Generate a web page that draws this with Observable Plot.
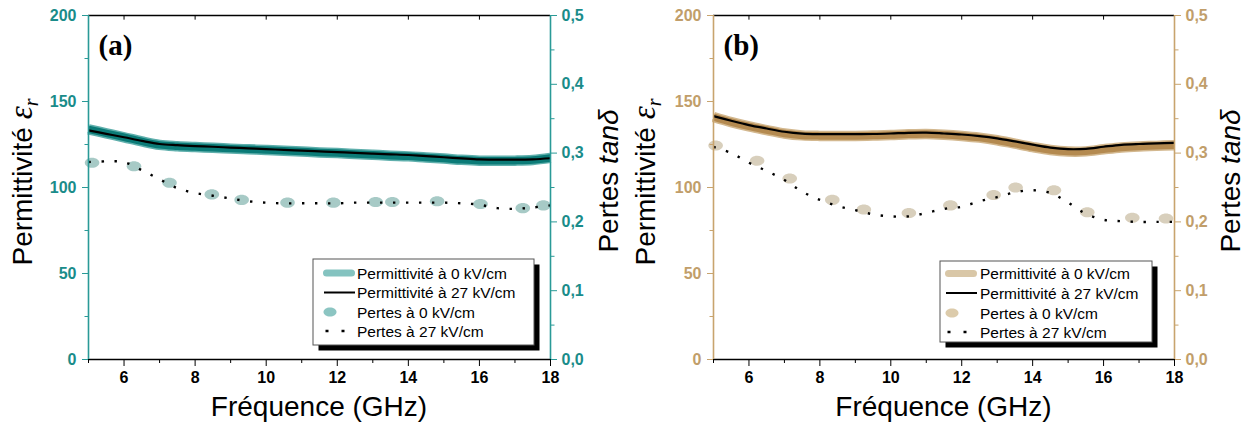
<!DOCTYPE html>
<html><head><meta charset="utf-8">
<script src="https://cdn.jsdelivr.net/npm/d3@7"></script>
<script src="https://cdn.jsdelivr.net/npm/@observablehq/plot@0.6"></script>
<style>
body{margin:0;background:#fff;}
#wrap{position:relative;width:1247px;height:426px;overflow:hidden;}
#pa{position:absolute;left:0;top:0;}
#pb{position:absolute;left:623px;top:0;}
</style></head><body><div id="wrap"><div id="pa"></div><div id="pb"></div></div>
<script>
// ---------- data ----------
const freqGrid = [5,5.5,6,6.5,7,7.5,8,8.5,9,9.5,10,10.5,11,11.5,12,12.5,13,13.5,14,14.5,15,15.5,16,16.5,17,17.5,18];

// panel (a)
const permA_0kV  = [133.8,131.5,129.2,126.8,124.8,124.0,123.5,123.1,122.6,122.2,121.8,121.4,120.9,120.4,120.0,119.5,119.0,118.5,118.1,117.4,116.8,116.1,115.6,115.5,115.6,116.0,117.2];
const permA_27kV = [133.2,131.2,129.2,127.1,125.3,124.6,124.1,123.7,123.2,122.8,122.3,121.9,121.4,121.0,120.6,120.1,119.7,119.3,118.9,118.2,117.6,116.9,116.3,116.2,116.2,116.4,117.0];
const lossA_27kV = [0.287,0.288,0.287,0.275,0.262,0.249,0.242,0.238,0.234,0.230,0.228,0.227,0.227,0.227,0.227,0.228,0.228,0.228,0.228,0.228,0.228,0.227,0.225,0.220,0.219,0.221,0.224];
const lossA_0kV_freq = [5.1,6.28,7.28,8.47,9.31,10.6,11.89,13.08,13.55,14.81,16.03,17.22,17.8];
const lossA_0kV      = [0.286,0.281,0.257,0.240,0.232,0.228,0.228,0.229,0.229,0.230,0.226,0.220,0.224];

// panel (b)
const permB_0kV  = [141.0,138.0,135.5,133.4,131.4,130.3,130.0,130.0,130.0,130.2,130.5,130.9,131.1,130.7,130.0,129.0,127.5,125.5,123.5,121.8,120.9,121.0,122.2,123.3,123.9,124.2,124.6];
const permB_27kV = [141.5,138.8,136.3,134.3,132.4,131.3,131.0,131.0,131.0,131.1,131.4,131.8,131.9,131.4,130.8,129.9,128.6,126.8,124.9,123.2,122.3,122.5,123.7,124.8,125.3,125.6,126.0];
const lossB_27kV = [0.309,0.300,0.286,0.274,0.261,0.244,0.232,0.223,0.217,0.211,0.208,0.208,0.213,0.219,0.222,0.230,0.236,0.243,0.246,0.242,0.228,0.212,0.203,0.201,0.200,0.200,0.200];
const lossB_0kV_freq = [5.06,6.23,7.15,8.35,9.24,10.51,11.68,12.9,13.52,14.6,15.54,16.81,17.76];
const lossB_0kV      = [0.311,0.289,0.263,0.232,0.218,0.213,0.224,0.239,0.250,0.246,0.214,0.206,0.205];

// ticks & labels
const xTicksMajor = [6,8,10,12,14,16,18];
const xTicksMinor = [5,7,9,11,13,15,17];
const permTicks = [0,50,100,150,200];
const permTicksMinor = [25,75,125,175];
const lossTicks = [0,0.1,0.2,0.3,0.4,0.5];
const lossTicksMinor = [0.05,0.15,0.25,0.35,0.45];
const legendLabels = ["Permittivité à 0 kV/cm","Permittivité à 27 kV/cm","Pertes à 0 kV/cm","Pertes à 27 kV/cm"];
const xTitle = "Fréquence (GHz)";
const LOSS_TO_PERM = 400; // right axis 0.5 <-> left axis 200

// ---------- helpers ----------
const ellipseSymbol = {
  draw(ctx, size) {
    const r = Math.sqrt(size / Math.PI);
    const rx = r * 1.3, ry = r * 0.9, k = 0.5523;
    ctx.moveTo(rx, 0);
    ctx.bezierCurveTo(rx, k*ry, k*rx, ry, 0, ry);
    ctx.bezierCurveTo(-k*rx, ry, -rx, k*ry, -rx, 0);
    ctx.bezierCurveTo(-rx, -k*ry, -k*rx, -ry, 0, -ry);
    ctx.bezierCurveTo(k*rx, -ry, rx, -k*ry, rx, 0);
    ctx.closePath();
  }
};
const fmtLoss = d => (d / LOSS_TO_PERM).toFixed(1).replace(".", ",");
const SANS = "'Liberation Sans', Arial, Helvetica, sans-serif";

function makePanel(cfg) {
  const rows = freqGrid.map((f, i) => ({f, p0: cfg.perm0[i], p27: cfg.perm27[i], l27: cfg.loss27[i]}));
  const dots = cfg.lossFreq.map((f, i) => ({f, l: cfg.loss0[i]}));
  const svg = Plot.plot({
    width: cfg.width, height: 426,
    marginLeft: cfg.ml, marginRight: cfg.mr, marginTop: 15, marginBottom: 67,
    x: {domain: [5, 18]},
    y: {domain: [0, 200]},
    style: {fontFamily: SANS, fontSize: "16px", fontWeight: "bold", background: "white", overflow: "visible"},
    marks: [
      Plot.line(rows, {x: "f", y: "p0", stroke: cfg.bandLight, strokeWidth: 10.5, strokeLinecap: "butt", curve: "catmull-rom"}),
      Plot.line(rows, {x: "f", y: "p0", stroke: cfg.bandDark, strokeWidth: 7.5, strokeLinecap: "butt", curve: "catmull-rom"}),
      Plot.line(rows, {x: "f", y: "p27", stroke: "black", strokeWidth: 2.2, strokeLinecap: "butt", curve: "catmull-rom"}),
      Plot.dot(dots, {x: "f", y: d => d.l * LOSS_TO_PERM, r: 5.6, symbol: ellipseSymbol, fill: cfg.dotColor}),
      Plot.line(rows, {x: "f", y: d => d.l27 * LOSS_TO_PERM, stroke: "black", strokeWidth: 2.4, strokeLinecap: "butt", strokeDasharray: "2.4,10.6", curve: "catmull-rom"}),
      // frame
      Plot.ruleY([0], {stroke: "black", strokeWidth: 1.5}),
      Plot.ruleY([200], {stroke: "black", strokeWidth: 1.5}),
      Plot.ruleX([5], {stroke: cfg.axisColor, strokeWidth: 1.6}),
      Plot.ruleX([18], {stroke: cfg.axisColor, strokeWidth: 1.6}),
      Plot.ruleX(xTicksMajor.slice(0, -1), {y1: 200, y2: 197.3, stroke: "black"}),
      // axes
      Plot.axisX({ticks: xTicksMajor, tickSize: 7, tickPadding: 5, label: null, color: "black"}),
      Plot.axisX({ticks: xTicksMinor, tickSize: 4, tickFormat: () => "", label: null, color: "black"}),
      Plot.axisY({anchor: "left", ticks: permTicks, tickSize: 6, tickPadding: 6, label: null, color: cfg.labelColor, stroke: cfg.axisColor}),
      Plot.axisY({anchor: "left", ticks: permTicksMinor, tickSize: 3.5, tickFormat: () => "", label: null, stroke: cfg.axisColor}),
      Plot.axisY({anchor: "right", ticks: lossTicks.map(v => v * LOSS_TO_PERM), tickFormat: fmtLoss, tickSize: 6, tickPadding: 5, label: null, color: cfg.labelColor, stroke: cfg.axisColor}),
      Plot.axisY({anchor: "right", ticks: lossTicksMinor.map(v => v * LOSS_TO_PERM), tickSize: 3.5, tickFormat: () => "", label: null, stroke: cfg.axisColor})
    ]
  });

  const g = d3.select(svg).append("g").attr("font-family", SANS).attr("font-weight", "normal")
    .attr("fill", "black").attr("text-anchor", "start");
  // x title
  g.append("text").attr("x", (cfg.ml + cfg.width - cfg.mr) / 2).attr("y", 416)
    .attr("text-anchor", "middle").attr("font-size", 28).text(xTitle);
  // left title
  const lt = g.append("text").attr("transform", `translate(${cfg.leftTitleX},182) rotate(-90)`)
    .attr("text-anchor", "middle").attr("font-size", 28);
  lt.append("tspan").text("Permittivité ");
  lt.append("tspan").attr("font-family", "'Liberation Serif', serif").attr("font-style", "italic").attr("font-size", 33).text("ε");
  lt.append("tspan").attr("font-family", "'Liberation Serif', serif").attr("font-style", "italic").attr("font-size", 20).attr("dy", 6).text("r");
  // right title
  const rt = g.append("text").attr("transform", `translate(${cfg.rightTitleX},181) rotate(-90)`)
    .attr("text-anchor", "middle").attr("font-size", 28);
  rt.append("tspan").text("Pertes ");
  rt.append("tspan").attr("font-style", "italic").text("tanδ");
  // panel tag
  g.append("text").attr("x", cfg.ml + 10.5).attr("y", 55).attr("text-anchor", "start")
    .attr("font-family", "'Liberation Serif', 'Times New Roman', serif").attr("font-weight", "bold")
    .attr("font-size", 29).text(cfg.tag);

  // legend
  const L = cfg.legend;
  const lg = g.append("g");
  lg.append("rect").attr("x", L.x + 5.5).attr("y", L.y + 5.5).attr("width", L.w).attr("height", L.h).attr("fill", "black");
  lg.append("rect").attr("x", L.x).attr("y", L.y).attr("width", L.w).attr("height", L.h)
    .attr("fill", "white").attr("stroke", "#555").attr("stroke-width", 1);
  lg.append("line").attr("x1", L.sx0 + 3.5).attr("x2", L.sx1 - 3.5).attr("y1", L.rows[0]).attr("y2", L.rows[0])
    .attr("stroke", cfg.legendBand).attr("stroke-width", 7).attr("stroke-linecap", "round");
  lg.append("line").attr("x1", L.sx0 + 1).attr("x2", L.sx1).attr("y1", L.rows[1]).attr("y2", L.rows[1])
    .attr("stroke", "black").attr("stroke-width", 2);
  lg.append("path").attr("d", d3.symbol(ellipseSymbol, Math.PI * 25)())
    .attr("transform", `translate(${L.sx0 + 7},${L.rows[2]})`).attr("fill", cfg.legendDot);
  lg.append("line").attr("x1", L.sx0 + 2.5).attr("x2", L.sx1 - 8).attr("y1", L.rows[3]).attr("y2", L.rows[3])
    .attr("stroke", "black").attr("stroke-width", 2.4).attr("stroke-dasharray", "3,13");
  legendLabels.forEach((t, i) => {
    lg.append("text").attr("x", L.tx).attr("y", L.rows[i] + 5.5).attr("text-anchor", "start")
      .attr("font-size", 15.5).text(t);
  });
  return svg;
}

document.getElementById("pa").appendChild(makePanel({
  width: 623, ml: 88, mr: 73, tag: "(a)", leftTitleX: 32, rightTitleX: 618,
  perm0: permA_0kV, perm27: permA_27kV, loss27: lossA_27kV, lossFreq: lossA_0kV_freq, loss0: lossA_0kV,
  axisColor: "#2a9a97", labelColor: "#1a8c8a", bandLight: "#5fafac", bandDark: "#0b7b77",
  dotColor: "#a7cac6", legendBand: "#84c3c0", legendDot: "#8cc5c2",
  legend: {x: 313, y: 259, w: 221, h: 86, sx0: 323, sx1: 355, tx: 357, rows: [273, 292.5, 312, 331]}
}));
document.getElementById("pb").appendChild(makePanel({
  width: 624, ml: 90, mr: 73, tag: "(b)", leftTitleX: 32, rightTitleX: 617,
  perm0: permB_0kV, perm27: permB_27kV, loss27: lossB_27kV, lossFreq: lossB_0kV_freq, loss0: lossB_0kV,
  axisColor: "#c8a46e", labelColor: "#c19e6a", bandLight: "#d3b88f", bandDark: "#b48a50",
  dotColor: "#d8cfbc", legendBand: "#d9c7a7", legendDot: "#dccbab",
  legend: {x: 317, y: 261, w: 212, h: 81, sx0: 322, sx1: 354, tx: 357, rows: [273.5, 293, 313, 332]}
}));
</script>
</body></html>
